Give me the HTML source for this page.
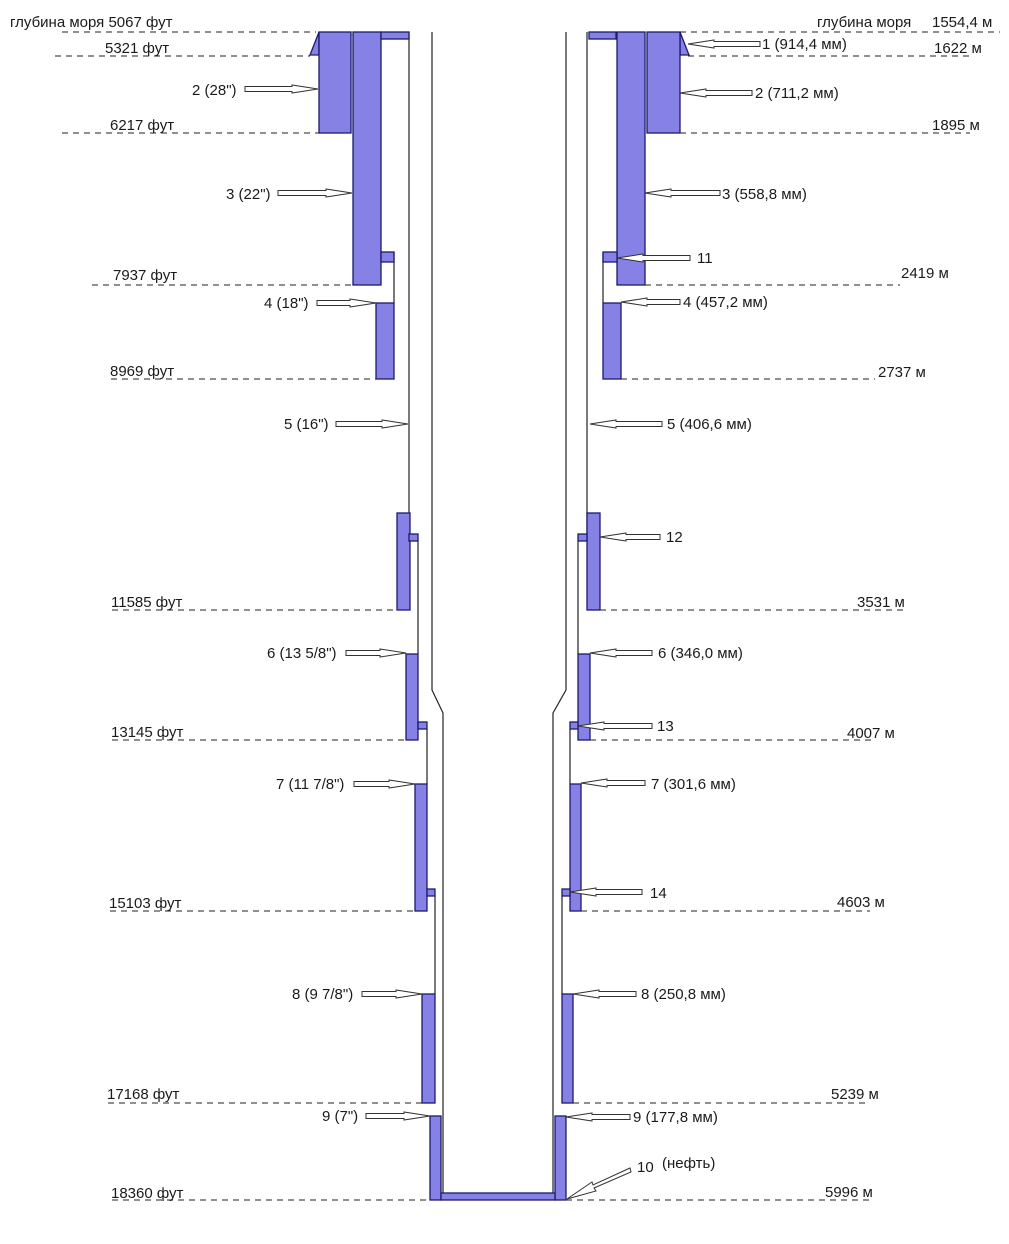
<!DOCTYPE html>
<html><head><meta charset="utf-8"><style>
html,body{margin:0;padding:0;background:#fff;}
svg{display:block;}
text{font-family:"Liberation Sans",sans-serif;font-size:15px;fill:#1a1a1a;}
.c{fill:#8681e4;stroke:#1c1a6e;stroke-width:1.3;}
.d{stroke:#222;stroke-width:1;stroke-dasharray:6 5;fill:none;}
.l{stroke:#222;stroke-width:1.2;fill:none;}
.a{fill:#fff;stroke:#333;stroke-width:1;}
</style></head><body>
<svg id="s" width="1009" height="1244" viewBox="0 0 1009 1244" xmlns="http://www.w3.org/2000/svg">
<rect width="1009" height="1244" fill="#fff"/>
<g class="d">
<line x1="62" y1="32" x2="316" y2="32"/>
<line x1="55" y1="56" x2="310" y2="56"/>
<line x1="62" y1="133" x2="319" y2="133"/>
<line x1="92" y1="285" x2="353" y2="285"/>
<line x1="111" y1="379" x2="376" y2="379"/>
<line x1="112" y1="610" x2="397" y2="610"/>
<line x1="112" y1="740" x2="406" y2="740"/>
<line x1="110" y1="911" x2="415" y2="911"/>
<line x1="108" y1="1103" x2="422" y2="1103"/>
<line x1="112" y1="1200" x2="430" y2="1200"/>
<line x1="680" y1="32" x2="1000" y2="32"/>
<line x1="688" y1="56" x2="970" y2="56"/>
<line x1="680" y1="133" x2="970" y2="133"/>
<line x1="645" y1="285" x2="900" y2="285"/>
<line x1="621" y1="379" x2="875" y2="379"/>
<line x1="600" y1="610" x2="905" y2="610"/>
<line x1="590" y1="740" x2="875" y2="740"/>
<line x1="581" y1="911" x2="870" y2="911"/>
<line x1="573" y1="1103" x2="870" y2="1103"/>
<line x1="566" y1="1200" x2="870" y2="1200"/>
</g>
<g class="l">
<polyline points="432,32 432,690 443,713 443,1193"/>
<polyline points="566,32 566,690 553,713 553,1193"/>
<line x1="409" y1="32" x2="409" y2="534"/>
<line x1="587" y1="32" x2="587" y2="534"/>
<line x1="394" y1="252" x2="394" y2="303"/>
<line x1="603" y1="252" x2="603" y2="303"/>
<line x1="418" y1="541" x2="418" y2="654"/>
<line x1="578" y1="541" x2="578" y2="654"/>
<line x1="427" y1="729" x2="427" y2="784"/>
<line x1="570" y1="729" x2="570" y2="784"/>
<line x1="435" y1="896" x2="435" y2="994"/>
<line x1="562" y1="896" x2="562" y2="994"/>
</g>
<g class="c">
<polygon points="319,32 319,55 310,55"/>
<polygon points="680,32 680,55 689,55"/>
<rect x="319" y="32" width="32" height="101"/>
<rect x="647" y="32" width="33" height="101"/>
<rect x="353" y="32" width="28" height="253"/>
<rect x="617" y="32" width="28" height="253"/>
<rect x="381" y="32" width="28" height="7"/>
<rect x="589" y="32" width="27" height="7"/>
<rect x="381" y="252" width="13" height="10"/>
<rect x="603" y="252" width="14" height="10"/>
<rect x="376" y="303" width="18" height="76"/>
<rect x="603" y="303" width="18" height="76"/>
<rect x="397" y="513" width="13" height="97"/>
<rect x="587" y="513" width="13" height="97"/>
<rect x="409" y="534" width="9" height="7"/>
<rect x="578" y="534" width="9" height="7"/>
<rect x="406" y="654" width="12" height="86"/>
<rect x="578" y="654" width="12" height="86"/>
<rect x="418" y="722" width="9" height="7"/>
<rect x="570" y="722" width="8" height="7"/>
<rect x="415" y="784" width="12" height="127"/>
<rect x="570" y="784" width="11" height="127"/>
<rect x="427" y="889" width="8" height="7"/>
<rect x="562" y="889" width="8" height="7"/>
<rect x="422" y="994" width="13" height="109"/>
<rect x="562" y="994" width="11" height="109"/>
<rect x="430" y="1116" width="11" height="84"/>
<rect x="555" y="1116" width="11" height="84"/>
<rect x="441" y="1193" width="114" height="7"/>
</g>
<g id="arrows"></g>
<text x="10" y="27">глубина моря  5067 фут</text>
<text x="105" y="53">5321 фут</text>
<text x="192" y="95">2 (28")</text>
<text x="110" y="130">6217 фут</text>
<text x="226" y="199">3 (22")</text>
<text x="113" y="280">7937 фут</text>
<text x="264" y="308">4 (18")</text>
<text x="110" y="376">8969 фут</text>
<text x="284" y="429">5 (16")</text>
<text x="111" y="607">11585 фут</text>
<text x="267" y="658">6 (13 5/8")</text>
<text x="111" y="737">13145 фут</text>
<text x="276" y="789">7 (11 7/8")</text>
<text x="109" y="908">15103 фут</text>
<text x="292" y="999">8 (9 7/8")</text>
<text x="107" y="1099">17168 фут</text>
<text x="322" y="1121">9 (7")</text>
<text x="111" y="1198">18360 фут</text>
<text x="817" y="27">глубина моря</text>
<text x="932" y="27">1554,4 м</text>
<text x="762" y="49">1 (914,4 мм)</text>
<text x="934" y="53">1622 м</text>
<text x="755" y="98">2 (711,2 мм)</text>
<text x="932" y="130">1895 м</text>
<text x="722" y="199">3 (558,8 мм)</text>
<text x="697" y="263">11</text>
<text x="901" y="278">2419 м</text>
<text x="683" y="307">4 (457,2 мм)</text>
<text x="878" y="377">2737 м</text>
<text x="667" y="429">5 (406,6 мм)</text>
<text x="666" y="542">12</text>
<text x="857" y="607">3531 м</text>
<text x="658" y="658">6 (346,0 мм)</text>
<text x="657" y="731">13</text>
<text x="847" y="738">4007 м</text>
<text x="651" y="789">7 (301,6 мм)</text>
<text x="650" y="898">14</text>
<text x="837" y="907">4603 м</text>
<text x="641" y="999">8 (250,8 мм)</text>
<text x="831" y="1099">5239 м</text>
<text x="633" y="1122">9 (177,8 мм)</text>
<text x="637" y="1172">10</text>
<text x="662" y="1168">(нефть)</text>
<text x="825" y="1197">5996 м</text>
</svg>
<script>
(function(){
var g=document.getElementById('arrows'),ns='http://www.w3.org/2000/svg';
function arr(xs,xt,y){var d=xt>xs?-1:1,h=26;var p=[[xt,y],[xt+d*h,y-4],[xt+d*h,y-2.5],[xs,y-2.5],[xs,y+2.5],[xt+d*h,y+2.5],[xt+d*h,y+4]];
var e=document.createElementNS(ns,'polygon');e.setAttribute('class','a');e.setAttribute('points',p.map(function(q){return q.join(',')}).join(' '));g.appendChild(e);}
[[245,318,89],[278,352,193],[317,376,303],[336,408,424],[346,406,653],[354,415,784],[362,422,994],[366,430,1116],
[760,688,44],[752,680,93],[720,645,193],[690,617,258],[680,621,302],[662,590,424],[660,600,537],[652,590,653],[652,578,726],[645,581,783],[642,570,892],[636,573,994],[630,566,1117]].forEach(function(a){arr(a[0],a[1],a[2]);});
var e=document.createElementNS(ns,'polygon');e.setAttribute('class','a');
e.setAttribute('points','567,1199 592,1182 593,1185 630,1168 631,1172 594,1188 596,1191');g.appendChild(e);
})();
</script>
</body></html>
